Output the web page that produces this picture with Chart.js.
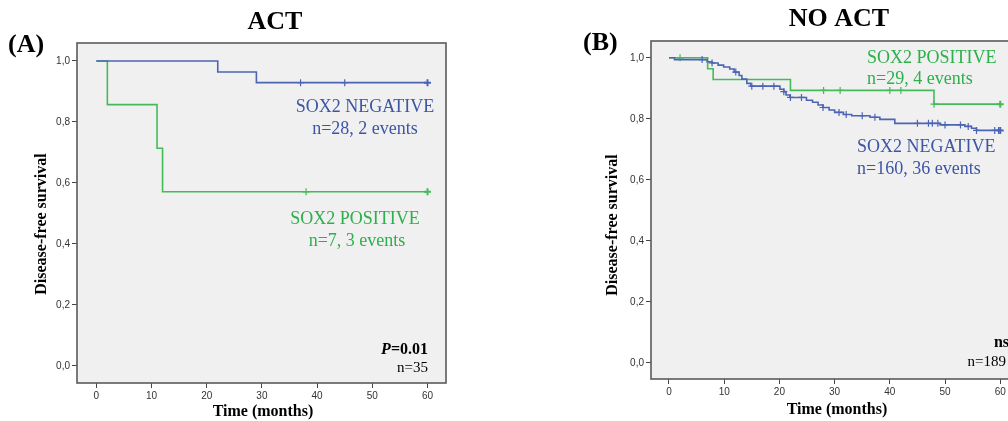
<!DOCTYPE html>
<html>
<head>
<meta charset="utf-8">
<title>Disease-free survival by SOX2 status</title>
<script src="https://cdn.jsdelivr.net/npm/chart.js@4.4.1/dist/chart.umd.min.js"></script>
<style>
    html, body {
        margin: 0;
        padding: 0;
        width: 1008px;
        height: 421px;
        overflow: hidden;
        background: #ffffff;
    }
    .panel {
        position: absolute;
        top: 0;
        height: 421px;
    }
    #panelA { left: 0; width: 500px; }
    #panelB { left: 560px; width: 470px; }
</style>
</head>
<body>
<div class="panel" id="panelA"><canvas id="chartA"></canvas></div>
<div class="panel" id="panelB"><canvas id="chartB"></canvas></div>
<script>
/**
 * Kaplan-Meier curves, disease-free survival by SOX2 status
 */

// Axis ticks
const monthTicks = [0, 10, 20, 30, 40, 50, 60];
const survivalTicks = [0, 0.2, 0.4, 0.6, 0.8, 1.0];

// ACT - SOX2 negative
const actNegTimes = [0, 22, 29, 60];
const actNegSurvival = [1, 0.964, 0.929, 0.929];
const actNegCensored = [37, 45, 60];

// ACT - SOX2 positive
const actPosTimes = [0, 2, 11, 12, 60];
const actPosSurvival = [1, 0.857, 0.714, 0.571, 0.571];
const actPosCensored = [38, 60];

// NO ACT - SOX2 positive
const noActPosTimes = [0, 7, 8, 22, 48, 60];
const noActPosSurvival = [1, 0.964, 0.929, 0.893, 0.848, 0.848];
const noActPosCensored = [2, 28, 31, 40, 42, 48, 60];

// NO ACT - SOX2 negative
const noActNegTimes = [0, 1, 6.9, 7.8, 8.9, 9.9, 11, 11.8, 12.7, 13.2, 14.1, 14.8, 20.1, 20.8, 21.2, 21.9,
    24.9, 26, 27, 27.9, 29, 30, 31.6, 33.1, 36.4, 38.2, 40.9, 49.1, 53.6, 54.8, 55.7, 60];
const noActNegSurvival = [1, 0.994, 0.987, 0.983, 0.976, 0.970, 0.963, 0.953, 0.942, 0.930, 0.916, 0.907, 0.897, 0.889, 0.878, 0.870,
    0.861, 0.854, 0.845, 0.837, 0.829, 0.821, 0.814, 0.810, 0.805, 0.798, 0.785, 0.780, 0.775, 0.769, 0.762, 0.762];
const noActNegCensored = [6, 7.8, 12.1, 15, 17, 19, 20.8, 22, 24, 27.9, 30.8, 32.1, 35, 37.3,
    45, 47, 47.7, 48.7, 50, 52.8, 54.2, 55.7, 59, 59.7, 60];

const BLUE_LINE = '#4c64b4';
const GREEN_LINE = '#45bb57';
const BLUE_TEXT = '#3d55a5';
const GREEN_TEXT = '#2bb04a';
const SERIF = "'Liberation Serif', 'Times New Roman', serif";
const SANS = "'Liberation Sans', Arial, sans-serif";

// Build step points for the survival curve
function stepPoints(times, survival) {
    return times.map((t, i) => ({ x: t, y: survival[i] }));
}

// Survival level at a given time (right-continuous step function)
function survivalAt(times, survival, t) {
    let s = survival[0];
    for (let i = 0; i < times.length; i++) {
        if (times[i] <= t) s = survival[i];
    }
    return s;
}

function censorPoints(times, survival, censored) {
    return censored.map(t => ({ x: t, y: survivalAt(times, survival, t) }));
}

function curveDatasets(times, survival, censored, color) {
    return [
        {
            data: stepPoints(times, survival),
            showLine: true,
            stepped: true,
            borderColor: color,
            borderWidth: 1.6,
            pointRadius: 0,
            fill: false
        },
        {
            data: censorPoints(times, survival, censored),
            showLine: false,
            pointStyle: 'cross',
            pointRadius: 3.5,
            borderColor: color,
            pointBorderWidth: ctx => (ctx.raw && ctx.raw.x >= 60 ? 2 : 1.2)
        }
    ];
}

// Grey plot background and frame
const framePlugin = {
    id: 'frame',
    beforeDraw(chart) {
        const { ctx, chartArea: a } = chart;
        ctx.save();
        ctx.fillStyle = '#f0f0f0';
        ctx.fillRect(a.left, a.top, a.right - a.left, a.bottom - a.top);
        ctx.restore();
    },
    afterDraw(chart) {
        const { ctx, chartArea: a } = chart;
        ctx.save();
        ctx.strokeStyle = '#5a5a5a';
        ctx.lineWidth = 1.6;
        ctx.strokeRect(a.left, a.top, a.right - a.left, a.bottom - a.top);
        ctx.restore();
    }
};

// Titles, group labels and statistics
const panelTextPlugin = {
    id: 'panelText',
    afterDraw(chart, args, opts) {
        const ctx = chart.ctx;
        (opts.items || []).forEach(item => {
            ctx.save();
            ctx.fillStyle = item.color || '#000';
            ctx.textBaseline = 'middle';
            ctx.textAlign = item.align || 'center';
            if (item.parts) {
                // right-aligned run of differently styled pieces
                let x = item.x;
                for (let i = item.parts.length - 1; i >= 0; i--) {
                    const p = item.parts[i];
                    ctx.font = p.font;
                    ctx.textAlign = 'right';
                    ctx.fillText(p.text, x, item.y);
                    x -= ctx.measureText(p.text).width;
                }
            } else {
                ctx.font = item.font;
                ctx.translate(item.x, item.y);
                if (item.rotate) ctx.rotate(item.rotate);
                ctx.fillText(item.text, 0, 0);
            }
            ctx.restore();
        });
    }
};

function axisOptions(min, max, tickValues, size, isY) {
    return {
        type: 'linear',
        min: min,
        max: max,
        afterBuildTicks: axis => {
            axis.ticks = tickValues.map(v => ({ value: v }));
        },
        afterFit: axis => {
            if (isY) axis.width = size;
            else axis.height = size;
        },
        grid: {
            drawOnChartArea: false,
            drawTicks: true,
            tickLength: 5,
            color: '#444',
            lineWidth: 1
        },
        border: { display: false },
        ticks: {
            font: { family: SANS, size: 10 },
            color: '#333',
            padding: 2,
            maxRotation: 0,
            autoSkip: false,
            callback: value => (isY ? value.toFixed(1).replace('.', ',') : String(value))
        }
    };
}

function initSurvivalChart(canvasId, cfg) {
    return new Chart(document.getElementById(canvasId), {
        type: 'scatter',
        data: { datasets: cfg.datasets },
        options: {
            responsive: true,
            maintainAspectRatio: false,
            animation: false,
            layout: { padding: cfg.padding },
            scales: {
                x: axisOptions(cfg.xMin, cfg.xMax, monthTicks, cfg.xAxisHeight, false),
                y: axisOptions(cfg.yMin, cfg.yMax, survivalTicks, 30, true)
            },
            plugins: {
                legend: { display: false },
                tooltip: { enabled: false },
                panelText: { items: cfg.texts }
            }
        },
        plugins: [framePlugin, panelTextPlugin]
    });
}

// Panel A: ACT
initSurvivalChart('chartA', {
    datasets: [
        ...curveDatasets(actNegTimes, actNegSurvival, actNegCensored, BLUE_LINE),
        ...curveDatasets(actPosTimes, actPosSurvival, actPosCensored, GREEN_LINE)
    ],
    padding: { left: 47, top: 43, right: 54, bottom: 0 },
    xAxisHeight: 38,
    xMin: -3.5, xMax: 63.35,
    yMin: -0.056, yMax: 1.059,
    texts: [
        { text: 'ACT', x: 275, y: 22, font: `bold 26px ${SERIF}` },
        { text: '(A)', x: 8, y: 45, align: 'left', font: `bold 26px ${SERIF}` },
        { text: 'Disease-free survival', x: 42, y: 224, rotate: -Math.PI / 2, font: `bold 16px ${SERIF}` },
        { text: 'Time (months)', x: 263, y: 412, font: `bold 16px ${SERIF}` },
        { text: 'SOX2 NEGATIVE', x: 365, y: 107, color: BLUE_TEXT, font: `18px ${SERIF}` },
        { text: 'n=28, 2 events', x: 365, y: 129, color: BLUE_TEXT, font: `18px ${SERIF}` },
        { text: 'SOX2 POSITIVE', x: 355, y: 219, color: GREEN_TEXT, font: `18px ${SERIF}` },
        { text: 'n=7, 3 events', x: 357, y: 241, color: GREEN_TEXT, font: `18px ${SERIF}` },
        { x: 428, y: 350, parts: [
            { text: 'P', font: `italic bold 16px ${SERIF}` },
            { text: '=0.01', font: `bold 16px ${SERIF}` }
        ] },
        { text: 'n=35', x: 428, y: 368, align: 'right', font: `15px ${SERIF}` }
    ]
});

// Panel B: NO ACT
initSurvivalChart('chartB', {
    datasets: [
        ...curveDatasets(noActNegTimes, noActNegSurvival, noActNegCensored, BLUE_LINE),
        ...curveDatasets(noActPosTimes, noActPosSurvival, noActPosCensored, GREEN_LINE)
    ],
    padding: { left: 61, top: 41, right: 11, bottom: 0 },
    xAxisHeight: 42,
    xMin: -3.26, xMax: 63.4,
    yMin: -0.053, yMax: 1.055,
    texts: [
        { text: 'NO ACT', x: 279, y: 19, font: `bold 26px ${SERIF}` },
        { text: '(B)', x: 23, y: 43, align: 'left', font: `bold 26px ${SERIF}` },
        { text: 'Disease-free survival', x: 53, y: 225, rotate: -Math.PI / 2, font: `bold 16px ${SERIF}` },
        { text: 'Time (months)', x: 277, y: 410, font: `bold 16px ${SERIF}` },
        { text: 'SOX2 POSITIVE', x: 307, y: 58, align: 'left', color: GREEN_TEXT, font: `18px ${SERIF}` },
        { text: 'n=29, 4 events', x: 307, y: 79, align: 'left', color: GREEN_TEXT, font: `18px ${SERIF}` },
        { text: 'SOX2 NEGATIVE', x: 297, y: 147, align: 'left', color: BLUE_TEXT, font: `18px ${SERIF}` },
        { text: 'n=160, 36 events', x: 297, y: 169, align: 'left', color: BLUE_TEXT, font: `18px ${SERIF}` },
        { text: 'ns', x: 449, y: 343, align: 'right', font: `bold 16px ${SERIF}` },
        { text: 'n=189', x: 446, y: 362, align: 'right', font: `15px ${SERIF}` }
    ]
});
</script>
</body>
</html>
